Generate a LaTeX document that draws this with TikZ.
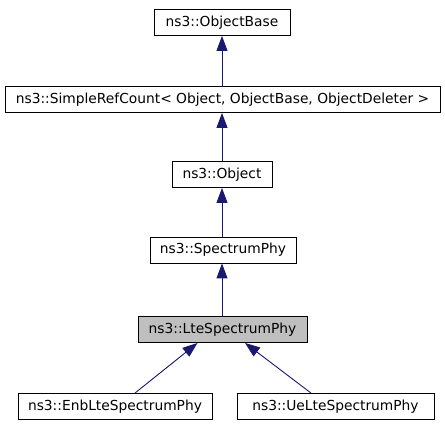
\documentclass[tikz,border=0pt]{standalone}
\usepackage{fontspec}
\setmainfont{DejaVu Sans}
\usetikzlibrary{arrows.meta}
\definecolor{edgeblue}{HTML}{191970}
\definecolor{curgray}{HTML}{BFBFBF}

\begin{document}
\begin{tikzpicture}[x=1pt,y=-1pt,line width=0.9pt,
  cls/.style={draw=black,fill=white,minimum height=26pt,inner sep=0pt,font=\fontsize{13.8}{16}\selectfont},
  cur/.style={cls,fill=curgray},
  inh/.style={draw=edgeblue,-{Triangle[length=15pt,width=11pt]}}]
\useasboundingbox (0,0) rectangle (445,427);

\node[cls,minimum width=136pt] (objbase) at (222,22.5) {ns3::ObjectBase};
\node[cls,minimum width=435pt] (refcount) at (222.5,99.5) {ns3::SimpleRefCount< Object, ObjectBase, ObjectDeleter >};
\node[cls,minimum width=100pt] (object) at (222,174.5) {ns3::Object};
\node[cls,minimum width=146pt] (specphy) at (223,250) {ns3::SpectrumPhy};
\node[cur,minimum width=169pt] (ltephy) at (222.5,329.5) {ns3::LteSpectrumPhy};
\node[cls,minimum width=194pt] (enbphy) at (115,406.5) {ns3::EnbLteSpectrumPhy};
\node[cls,minimum width=197pt] (uephy) at (335.5,406.5) {ns3::UeLteSpectrumPhy};

\draw[inh] (refcount.north -| objbase) -- (objbase.south);
\draw[inh] (object.north) -- (refcount.south -| object);
\draw[inh] (specphy.north -| object) -- (object.south);
\draw[inh] (ltephy.north -| object) -- (specphy.south -| object);
\draw[inh] ([xshift=20pt]enbphy.north) -- ([xshift=-25pt]ltephy.south);
\draw[inh] ([xshift=-24.5pt]uephy.north) -- ([xshift=22.5pt]ltephy.south);
\end{tikzpicture}
\end{document}
